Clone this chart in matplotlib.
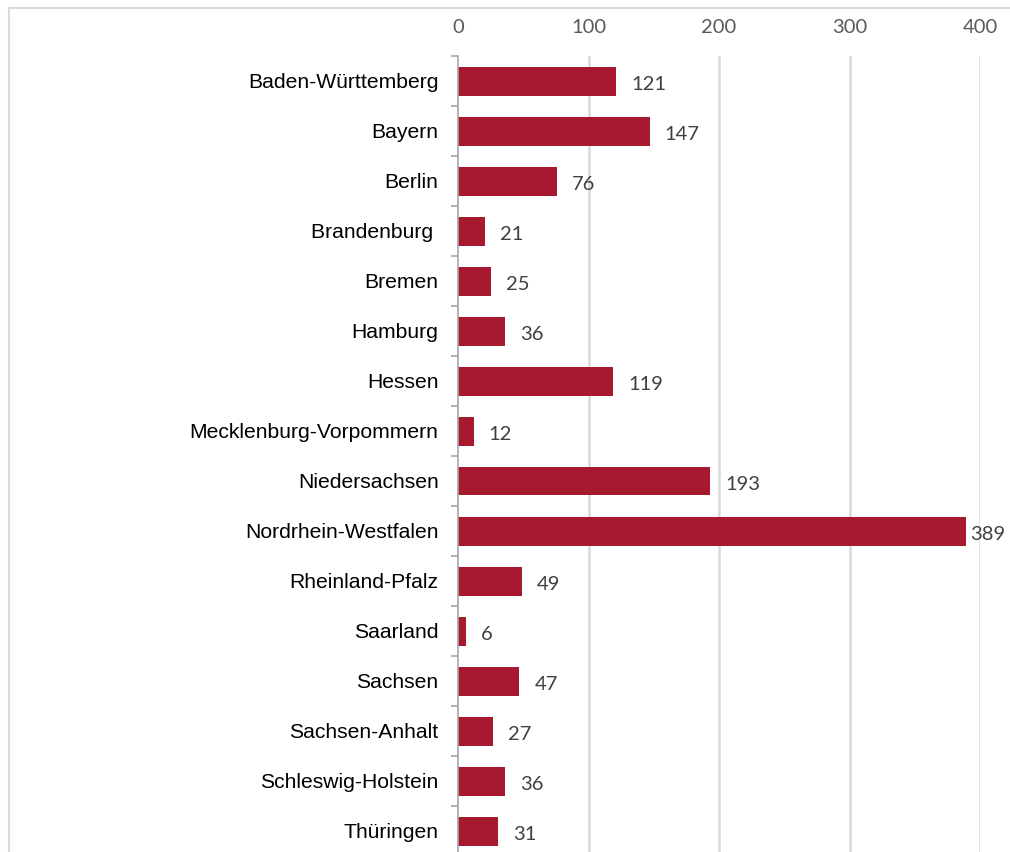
import matplotlib.pyplot as plt
from matplotlib.patches import Rectangle
from matplotlib.ticker import FixedLocator

laender = ['Baden-Württemberg', 'Bayern', 'Berlin', 'Brandenburg ', 'Bremen',
           'Hamburg', 'Hessen', 'Mecklenburg-Vorpommern', 'Niedersachsen',
           'Nordrhein-Westfalen', 'Rheinland-Pfalz', 'Saarland', 'Sachsen',
           'Sachsen-Anhalt', 'Schleswig-Holstein', 'Thüringen']
werte = [121, 147, 76, 21, 25, 36, 119, 12, 193, 389, 49, 6, 47, 27, 36, 31]
x_ticks = [0, 100, 200, 300, 400]

fig = plt.figure(figsize=(10.1, 8.52), dpi=100)
# Rahmen wie im Excel-Diagramm (unten/rechts abgeschnitten)
fig.patches.append(Rectangle((9 / 1010, -0.1), 1.2, 1 - 8 / 852 + 0.1,
                             transform=fig.transFigure, fill=False,
                             edgecolor='#d9d9d9', linewidth=1.5))

ax = fig.add_axes([458 / 1010, -4 / 852, 522 / 1010, 800 / 852])
pos = list(range(len(laender)))
ax.barh(pos, werte, height=0.58, color='#A6192E', zorder=3)

ax.set_xlim(0, 400)
ax.set_ylim(len(laender) - 0.5, -0.5)
ax.xaxis.tick_top()
ax.set_xticks(x_ticks)
ax.set_xticklabels([str(t) for t in x_ticks], family='Lato', fontsize=14.5, color='#595959')
ax.tick_params(axis='x', length=0, pad=14.5)

ax.set_yticks(pos)
ax.set_yticklabels(laender, family='Liberation Sans', fontsize=15.25, color='black')
ax.tick_params(axis='y', which='major', length=0, pad=14)
ax.yaxis.set_minor_locator(FixedLocator([p - 0.5 for p in pos] + [len(pos) - 0.5]))
ax.tick_params(axis='y', which='minor', length=5, width=1.2, color='#a6a6a6')

for s in ['top', 'right', 'bottom']:
    ax.spines[s].set_visible(False)
ax.spines['left'].set_color('#a6a6a6')
ax.spines['left'].set_linewidth(1.2)
ax.spines['left'].set_zorder(4)

for t in x_ticks[1:]:
    ax.axvline(t, color='#d9d9d9', linewidth=1.8, zorder=1)

for p, v in zip(pos, werte):
    ax.annotate(str(v), (min(v + 11.5, 392.5), p), xytext=(0, -2.2),
                textcoords='offset points', va='center', ha='left',
                family='Lato', fontsize=14.5, color='#404040', annotation_clip=False)

fig.savefig('out.png', dpi=100)
